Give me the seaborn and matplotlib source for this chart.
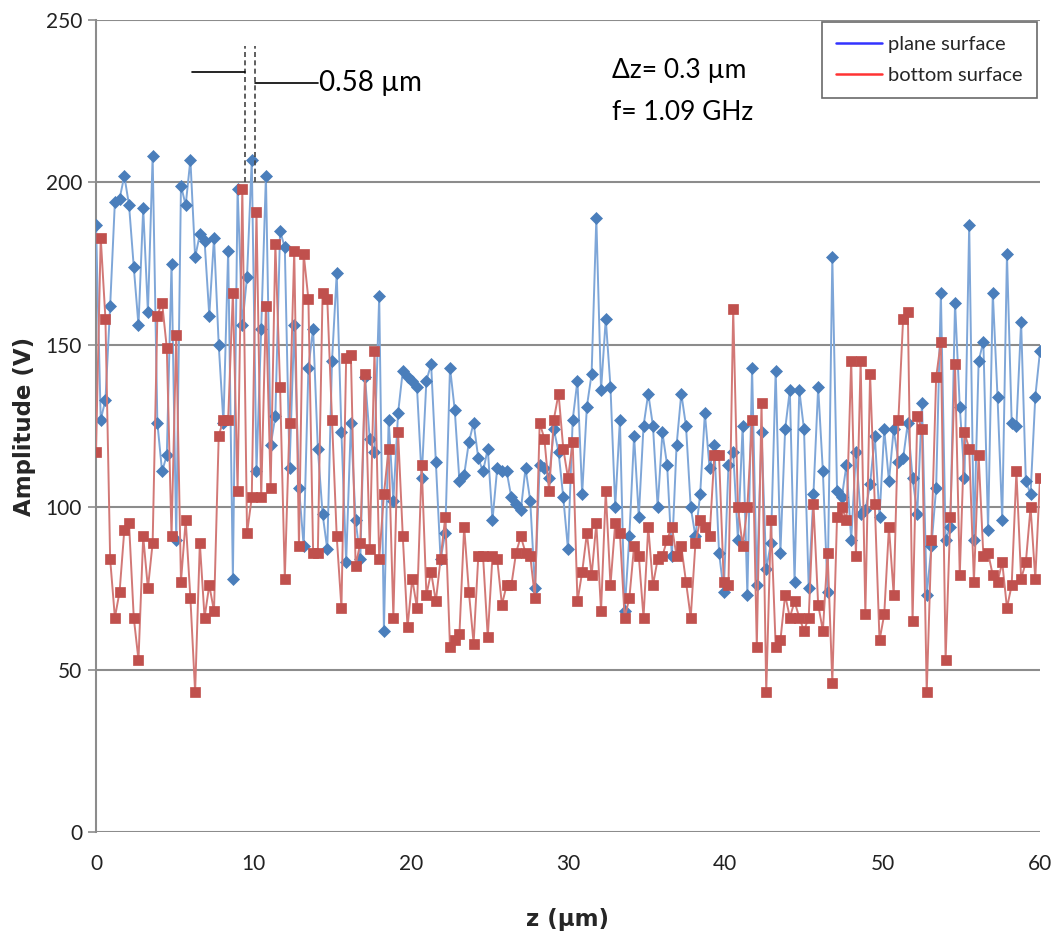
import numpy as np
import pandas as pd
import matplotlib
matplotlib.use("Agg")
import matplotlib.pyplot as plt
import seaborn as sns
from matplotlib.lines import Line2D

# ---------------- data ----------------
DZ = 0.3
plane_surface = [187,127,133,162,194,195,202,193,174,156,192,160,208,126,111,116,175,90,199,193,
    207,177,184,182,159,183,150,126,179,78,198,156,171,207,111,155,202,119,128,185,180,
    112,156,106,88,143,155,118,98,87,145,172,123,83,126,96,84,140,121,117,165,
    62,127,102,129,142,140,139,137,109,139,144,114,84,92,143,130,108,110,120,126,
    115,111,118,96,112,111,111,103,101,99,112,102,75,113,112,109,124,117,103,87,127,
    139,104,131,141,189,136,158,137,100,127,68,91,122,97,125,135,125,100,123,113,
    85,119,135,125,100,91,104,129,112,119,86,74,113,117,90,125,73,143,
    76,123,81,89,142,86,124,136,77,136,124,75,104,137,111,74,177,105,103,113,90,117,
    98,99,107,122,97,124,108,124,114,115,126,109,98,132,73,88,106,166,
    90,94,163,131,109,187,90,145,151,93,166,134,96,178,126,125,157,108,104,134,148]
bottom_surface = [117,183,158,84,66,74,93,95,66,53,91,75,89,159,163,149,91,153,77,96,72,
    43,89,66,76,68,122,127,127,166,105,198,92,103,191,103,162,106,181,137,78,
    126,179,88,178,164,86,86,166,164,127,91,69,146,147,82,89,141,87,148,84,
    104,118,66,123,91,63,78,69,113,73,80,71,84,97,57,59,61,94,74,58,
    85,85,60,85,84,70,76,76,86,91,86,85,72,126,121,105,127,135,118,109,120,
    71,80,92,79,95,68,105,76,95,92,66,72,88,85,66,94,76,84,85,90,
    94,85,88,77,66,89,96,94,91,116,116,77,76,161,100,88,100,127,57,
    132,43,96,57,59,73,66,71,66,62,66,101,70,62,86,46,97,100,96,145,85,
    145,67,141,101,59,67,94,73,127,158,160,65,128,124,43,90,140,151,
    53,97,144,79,123,118,77,116,85,86,79,77,83,69,76,111,78,83,100,78,109]
series_names = ["plane surface", "bottom surface"]
x_ticks = [0, 10, 20, 30, 40, 50, 60]
y_ticks = [0, 50, 100, 150, 200, 250]

z_plane = np.arange(len(plane_surface)) * DZ
z_bottom = np.arange(len(bottom_surface)) * DZ
df_p = pd.DataFrame({"z": z_plane, "amp": plane_surface})
df_b = pd.DataFrame({"z": z_bottom, "amp": bottom_surface})

# ---------------- figure ----------------
sns.set_theme(style="white")
plt.rcParams["font.family"] = ["Lato", "DejaVu Sans"]

fig = plt.figure(figsize=(10.57, 9.43), dpi=100)
ax = fig.add_axes([96/1057, 1-832/943, (1040-96)/1057, (832-20)/943])

BLUE_LINE = "#7ea6d8"
BLUE_MK = "#4a7ebb"
RED_LINE = "#d27876"
RED_MK = "#c0504d"

sns.lineplot(data=df_p, x="z", y="amp", ax=ax, color=BLUE_LINE, linewidth=1.4,
             marker="D", markersize=6.5, markerfacecolor=BLUE_MK, markeredgecolor=BLUE_MK,
             markeredgewidth=0.5, errorbar=None, sort=False, zorder=3)
sns.lineplot(data=df_b, x="z", y="amp", ax=ax, color=RED_LINE, linewidth=1.4,
             marker="s", markersize=7.5, markerfacecolor=RED_MK, markeredgecolor=RED_MK,
             markeredgewidth=0.5, errorbar=None, sort=False, zorder=4)

ax.set_xlim(0, 60)
ax.set_ylim(0, 250)
ax.set_xticks(x_ticks)
ax.set_yticks(y_ticks)
ax.yaxis.grid(True, color="#8c8c8c", linewidth=1.5, zorder=0)
ax.xaxis.grid(False)
for s in ["top", "right", "bottom"]:
    ax.spines[s].set_visible(False)
ax.spines["left"].set_color("#8c8c8c")
ax.spines["left"].set_linewidth(1.5)
ax.tick_params(axis="y", which="major", length=6, width=1.2, color="#8c8c8c",
               labelsize=15, pad=4, left=True, direction="out")
ax.tick_params(axis="x", which="major", length=0, width=1.2, color="#8c8c8c",
               labelsize=15, pad=16, bottom=True, direction="out")
for lab in ax.get_xticklabels() + ax.get_yticklabels():
    lab.set_color("#222222")

ax.set_xlabel("z (µm)", fontsize=16.5, fontweight="bold", family="DejaVu Sans", labelpad=24)
ax.set_ylabel("Amplitude (V)", fontsize=16.5, fontweight="bold", family="DejaVu Sans")
ax.yaxis.set_label_coords(-0.064, 0.5)

# annotations
ax.plot([9.5, 9.5], [200, 242], color="#444444", linestyle=(0, (3, 2)), linewidth=1.2, zorder=5)
ax.plot([10.1, 10.1], [200, 242], color="#444444", linestyle=(0, (3, 2)), linewidth=1.2, zorder=5)
ax.plot([6.1, 9.5], [234, 234], color="black", linewidth=1.2, zorder=5)
ax.plot([10.1, 14.1], [230.5, 230.5], color="black", linewidth=1.2, zorder=5)
ax.text(14.15, 230.5, "0.58 µm", fontsize=20, va="center", ha="left", color="black")
ax.text(32.8, 234.5, "Δz= 0.3 µm", fontsize=19, va="center", ha="left", color="black")
ax.text(32.8, 221.5, "f= 1.09 GHz", fontsize=19, va="center", ha="left", color="black")

handles = [Line2D([0], [0], color="#3333ff", linewidth=1.8),
           Line2D([0], [0], color="#ff3333", linewidth=1.8)]
leg = fig.legend(handles, series_names, loc="upper right",
                 bbox_to_anchor=(1037/1057, 1-22/943), frameon=True, fancybox=False,
                 borderaxespad=0, handlelength=2.3, handletextpad=0.3,
                 borderpad=0.7, labelspacing=0.7,
                 prop={"family": ["Lato", "DejaVu Sans"], "size": 14.5})
leg.get_frame().set_edgecolor("#444444")
leg.get_frame().set_linewidth(1.2)
leg.get_frame().set_facecolor("white")
leg.set_zorder(10)

fig.savefig("out.png", dpi=100, facecolor="white")
